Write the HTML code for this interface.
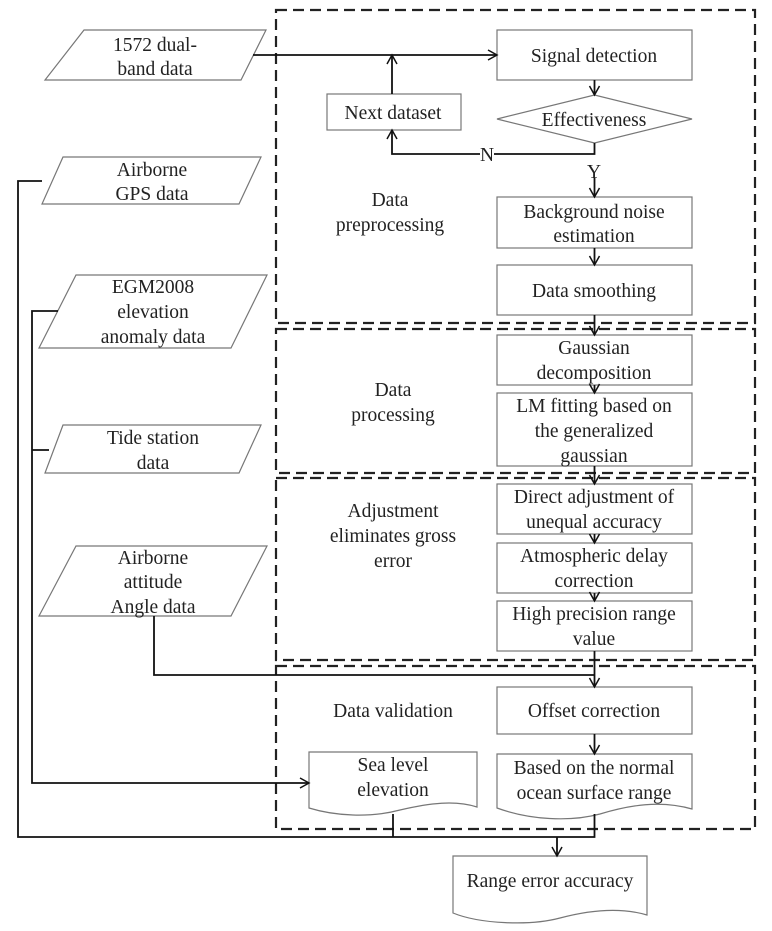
<!DOCTYPE html>
<html><head><meta charset="utf-8"><style>
html,body{margin:0;padding:0;background:#fff;}
svg{display:block;}
text{font-family:"Liberation Serif",serif;font-size:19.5px;fill:#222;text-anchor:middle;}
</style></head><body>
<svg width="772" height="931" viewBox="0 0 772 931" xmlns="http://www.w3.org/2000/svg">
<defs>
<marker id="a" markerWidth="12" markerHeight="12" refX="10" refY="6" orient="auto" markerUnits="userSpaceOnUse">
<path d="M1,1 L10,6 L1,11" fill="none" stroke="#111" stroke-width="1.5"/></marker>
</defs>
<g fill="none" stroke="#222" stroke-width="2.2" stroke-dasharray="11,6">
<rect x="276" y="10" width="479" height="313"/>
<rect x="276" y="329" width="479" height="144"/>
<rect x="276" y="478" width="479" height="182"/>
<rect x="276" y="666" width="479" height="163"/>
</g>
<g fill="#fff" stroke="#777" stroke-width="1.2">
<polygon points="84,30 266,30 241,80 45,80"/>
<polygon points="63,157 261,157 239,204 42,204"/>
<polygon points="76,275 267,275 231,348 39,348"/>
<polygon points="63,425 261,425 239,473 45,473"/>
<polygon points="76,546 267,546 231,616 39,616"/>
<rect x="497" y="30" width="195" height="50"/>
<rect x="327" y="94" width="134" height="36"/>
<polygon points="497,119 594.5,95 692,119 594.5,143"/>
<rect x="497" y="197" width="195" height="51"/>
<rect x="497" y="265" width="195" height="50"/>
<rect x="497" y="335" width="195" height="50"/>
<rect x="497" y="393" width="195" height="73"/>
<rect x="497" y="484" width="195" height="50"/>
<rect x="497" y="543" width="195" height="50"/>
<rect x="497" y="601" width="195" height="50"/>
<rect x="497" y="687" width="195" height="47"/>
<path d="M497,754 H692 V809 C660,800 630,805 600,814 C570,822 530,820 497,808 Z"/>
<path d="M309,752 H477 V807 C455,800 430,803 400,810 C370,818 335,816 309,808 Z"/>
<path d="M453,856 H647 V915 C620,907 590,910 560,918 C530,926 480,924 453,913 Z"/>
</g>
<g fill="none" stroke="#111" stroke-width="1.8">
<path d="M253,55 H497" marker-end="url(#a)"/>
<path d="M392,94 V55" marker-end="url(#a)"/>
<path d="M594.5,80 V95" marker-end="url(#a)"/>
<path d="M594.5,143 V154 H392 V130" marker-end="url(#a)"/>
<path d="M594.5,178 V197" marker-end="url(#a)"/>
<path d="M594.5,248 V265" marker-end="url(#a)"/>
<path d="M594.5,315 V335" marker-end="url(#a)"/>
<path d="M594.5,385 V393" marker-end="url(#a)"/>
<path d="M594.5,466 V484" marker-end="url(#a)"/>
<path d="M594.5,534 V543" marker-end="url(#a)"/>
<path d="M594.5,593 V601" marker-end="url(#a)"/>
<path d="M594.5,651 V687" marker-end="url(#a)"/>
<path d="M154,616 V675 H594.5"/>
<path d="M594.5,734 V754" marker-end="url(#a)"/>
<path d="M42,181 H18 V837 H594.5 V814"/>
<path d="M393,837 V814"/>
<path d="M557,837 V856" marker-end="url(#a)"/>
<path d="M58,311 H32 V783 H309" marker-end="url(#a)"/>
<path d="M49,450 H32"/>
</g>
<rect x="480" y="147" width="14" height="14" fill="#fff"/>
<text x="487" y="161">N</text>
<text x="594" y="178">Y</text>
<text x="155" y="51">1572 dual-</text><text x="155" y="75">band data</text>
<text x="152" y="176">Airborne</text><text x="152" y="200">GPS data</text>
<text x="153" y="293">EGM2008</text><text x="153" y="318">elevation</text><text x="153" y="343">anomaly data</text>
<text x="153" y="444">Tide station</text><text x="153" y="469">data</text>
<text x="153" y="564">Airborne</text><text x="153" y="588">attitude</text><text x="153" y="613">Angle data</text>
<text x="594" y="62">Signal detection</text>
<text x="393" y="119">Next dataset</text>
<text x="594" y="126">Effectiveness</text>
<text x="390" y="206">Data</text><text x="390" y="231">preprocessing</text>
<text x="594" y="218">Background noise</text><text x="594" y="242">estimation</text>
<text x="594" y="297">Data smoothing</text>
<text x="594" y="354">Gaussian</text><text x="594" y="379">decomposition</text>
<text x="393" y="396">Data</text><text x="393" y="421">processing</text>
<text x="594" y="412">LM fitting based on</text><text x="594" y="437">the generalized</text><text x="594" y="462">gaussian</text>
<text x="393" y="517">Adjustment</text><text x="393" y="542">eliminates gross</text><text x="393" y="567">error</text>
<text x="594" y="503">Direct adjustment of</text><text x="594" y="528">unequal accuracy</text>
<text x="594" y="562">Atmospheric delay</text><text x="594" y="587">correction</text>
<text x="594" y="620">High precision range</text><text x="594" y="645">value</text>
<text x="393" y="717">Data validation</text>
<text x="594" y="717">Offset correction</text>
<text x="594" y="774">Based on the normal</text><text x="594" y="799">ocean surface range</text>
<text x="393" y="771">Sea level</text><text x="393" y="796">elevation</text>
<text x="550" y="887">Range error accuracy</text>
</svg>
</body></html>
